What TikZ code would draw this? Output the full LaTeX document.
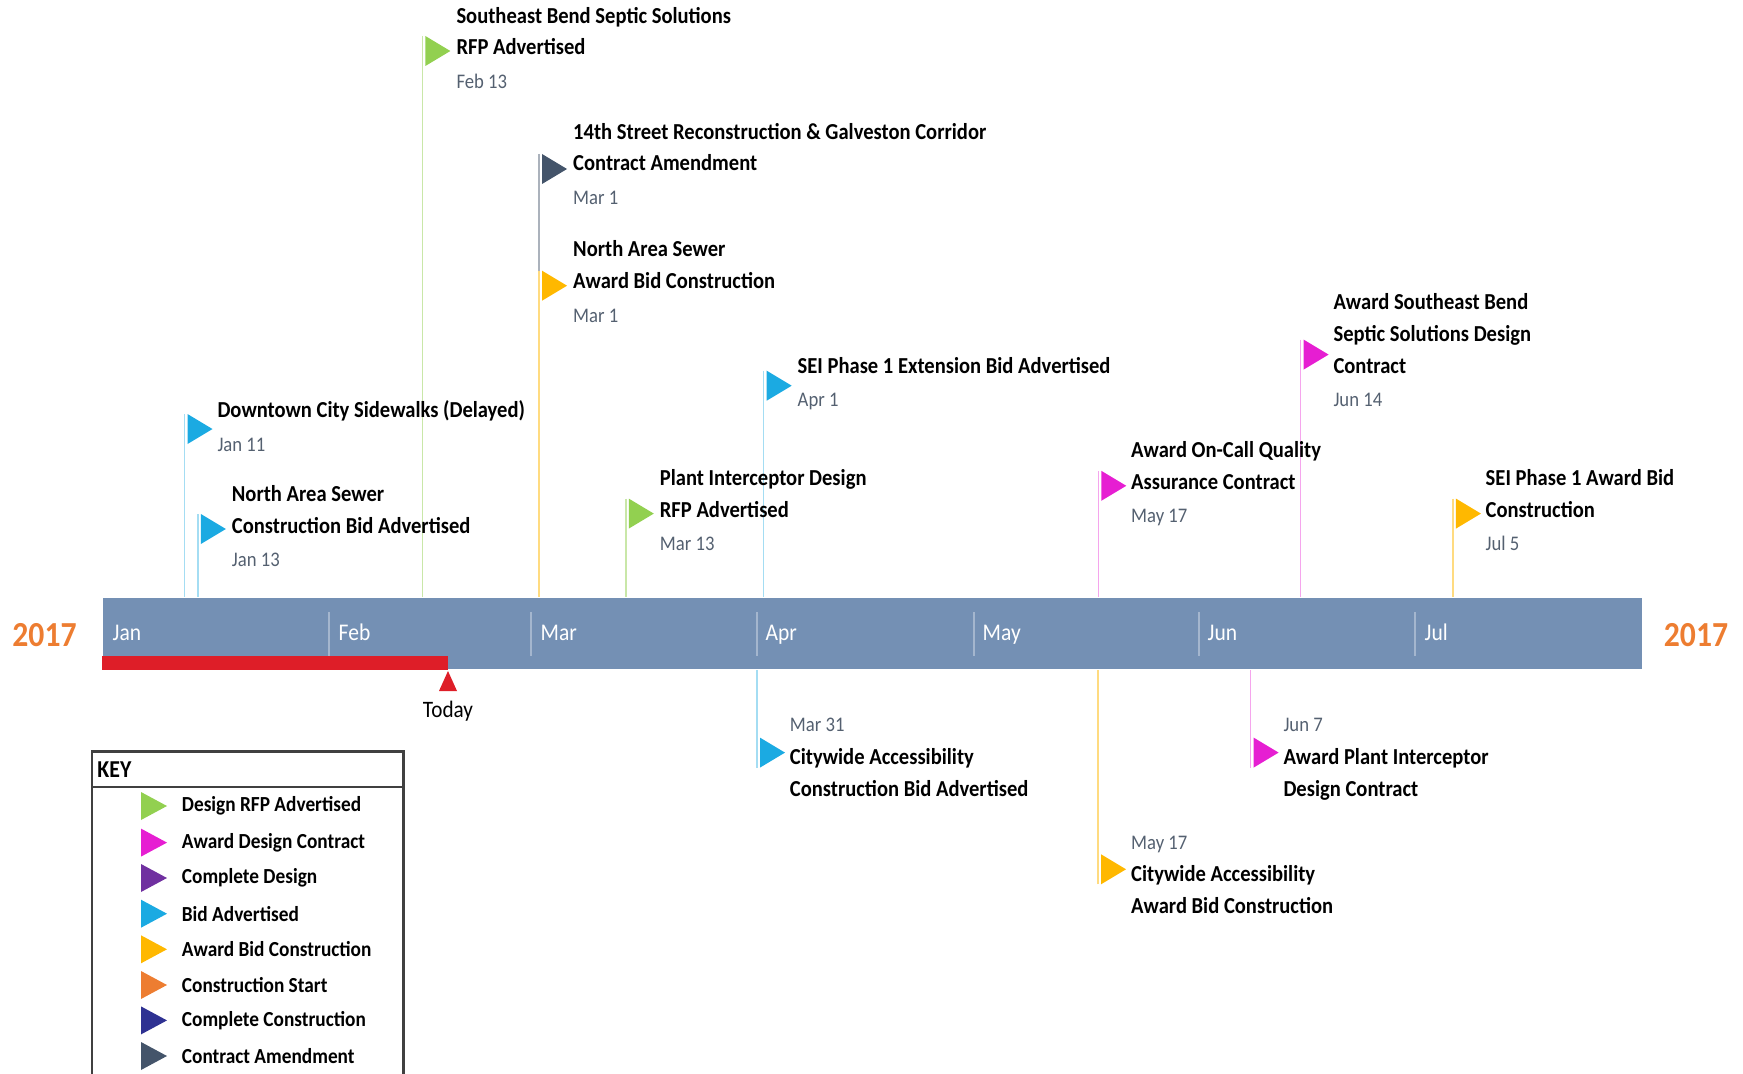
\documentclass[tikz,border=0pt]{standalone}
\usepackage{fontspec}
\setmainfont{Carlito}[FakeStretch=0.9]
\usetikzlibrary{positioning}

\definecolor{barblue}{RGB}{116,144,180}
\definecolor{todayred}{RGB}{222,30,40}
\definecolor{yearorange}{RGB}{237,125,49}
\definecolor{datecol}{RGB}{84,96,112}
\definecolor{rfpgreen}{RGB}{146,208,80}
\definecolor{awdmagenta}{RGB}{230,30,210}
\definecolor{cmpurple}{RGB}{112,48,160}
\definecolor{bidcyan}{RGB}{27,170,226}
\definecolor{bidgold}{RGB}{255,184,0}
\definecolor{conorange}{RGB}{237,125,49}
\definecolor{cmpblue}{RGB}{46,49,146}
\definecolor{amdslate}{RGB}{68,84,106}

\tikzset{
  timebar/.style={fill=barblue, minimum width=15.39cm, minimum height=0.71cm, inner sep=0pt},
  month/.style={anchor=base west, inner sep=0pt, text=white, font=\fontsize{6.8}{8}\selectfont},
  monthsep/.style={white, opacity=0.35, line width=0.4pt},
  year/.style={inner sep=0pt, text=yearorange, font=\bfseries\fontsize{10}{12}\selectfont},
  evtitle/.style={anchor=base west, align=left, inner sep=0pt, font=\bfseries\fontsize{6.5}{9.05}\selectfont},
  evdate/.style={anchor=base west, inner sep=0pt, text=datecol, font=\fontsize{5.9}{9}\selectfont},
  stem/.style={draw=#1, line width=0.4pt},
  keytext/.style={anchor=west, inner sep=0pt, font=\bfseries\fontsize{6.1}{8}\selectfont}
}

\begin{document}
\begin{tikzpicture}[x=0.01cm,y=-0.01cm]
    \useasboundingbox (0,0) rectangle (1743,1073);

    % Timeline bar
    \node[timebar] (bar) at (872.5,633.5) {};
    \fill[todayred] (bar.south west) rectangle (448,656);
    \node[year] (yearL) at (44.5,635) {2017};
    \node[year] (yearR) at (1696,635) {2017};

    % Months
    \node[month] (jan) at (112,640) {Jan};
    \node[month] (feb) at (338,640) {Feb};
    \node[month] (mar) at (540,640) {Mar};
    \node[month] (apr) at (765,640) {Apr};
    \node[month] (may) at (982,640) {May};
    \node[month] (jun) at (1207,640) {Jun};
    \node[month] (jul) at (1424,640) {Jul};
    \draw[monthsep] (329,612) -- (329,656);
    \draw[monthsep] (531,612) -- (531,656);
    \draw[monthsep] (757,612) -- (757,656);
    \draw[monthsep] (974,612) -- (974,656);
    \draw[monthsep] (1199,612) -- (1199,656);
    \draw[monthsep] (1415,612) -- (1415,656);

    % Today
    \coordinate (now) at (448,671);
    \fill[todayred] (now) -- (457,691) -- (439,691) -- cycle;
    \node[inner sep=0pt, font=\fontsize{6.7}{8}\selectfont] (today) at (448,711) {Today};

    % Stems above the bar
    \coordinate (fA) at (184.5,414);
    \coordinate (fB) at (197.9,514);
    \coordinate (fC) at (422.4,36);
    \coordinate (fD) at (539,154);
    \coordinate (fE) at (539,270.7);
    \coordinate (fF) at (625.8,498.6);
    \coordinate (fG) at (763.7,370.7);
    \coordinate (fH) at (1098.3,470.8);
    \coordinate (fI) at (1300.6,339.6);
    \coordinate (fJ) at (1452.9,498.6);
    \draw[stem=bidcyan!40] (fA) -- (fA |- bar.north);
    \draw[stem=bidcyan!40] (fB) -- (fB |- bar.north);
    \draw[stem=rfpgreen!50] (fC) -- (fC |- bar.north);
    \draw[stem=amdslate!45] (fD) -- (fD |- bar.north);
    \draw[stem=bidgold!50] (fE) -- (fE |- bar.north);
    \draw[stem=rfpgreen!50] (fF) -- (fF |- bar.north);
    \draw[stem=bidcyan!40] (fG) -- (fG |- bar.north);
    \draw[stem=awdmagenta!40] (fH) -- (fH |- bar.north);
    \draw[stem=awdmagenta!40] (fI) -- (fI |- bar.north);
    \draw[stem=bidgold!50] (fJ) -- (fJ |- bar.north);

    % Stems below the bar
    \coordinate (fK) at (757,767.6);
    \coordinate (fL) at (1098,884.3);
    \coordinate (fM) at (1250.6,767.6);
    \draw[stem=bidcyan!40] (fK) -- (fK |- bar.south);
    \draw[stem=bidgold!50] (fL) -- (fL |- bar.south);
    \draw[stem=awdmagenta!40] (fM) -- (fM |- bar.south);

    % Flags
    \fill[bidcyan] (fA) ++(3,0) -- ++(25,15) -- ++(-25,15) -- cycle;
    \fill[bidcyan] (fB) ++(3,0) -- ++(25,15) -- ++(-25,15) -- cycle;
    \fill[rfpgreen] (fC) ++(3,0) -- ++(25,15) -- ++(-25,15) -- cycle;
    \fill[amdslate] (fD) ++(3,0) -- ++(25,15) -- ++(-25,15) -- cycle;
    \fill[bidgold] (fE) ++(3,0) -- ++(25,15) -- ++(-25,15) -- cycle;
    \fill[rfpgreen] (fF) ++(3,0) -- ++(25,15) -- ++(-25,15) -- cycle;
    \fill[bidcyan] (fG) ++(3,0) -- ++(25,15) -- ++(-25,15) -- cycle;
    \fill[awdmagenta] (fH) ++(3,0) -- ++(25,15) -- ++(-25,15) -- cycle;
    \fill[awdmagenta] (fI) ++(3,0) -- ++(25,15) -- ++(-25,15) -- cycle;
    \fill[bidgold] (fJ) ++(3,0) -- ++(25,15) -- ++(-25,15) -- cycle;
    \fill[bidcyan] (fK) ++(3,0) -- ++(25,-15) -- ++(-25,-15) -- cycle;
    \fill[bidgold] (fL) ++(3,0) -- ++(25,-15) -- ++(-25,-15) -- cycle;
    \fill[awdmagenta] (fM) ++(3,0) -- ++(25,-15) -- ++(-25,-15) -- cycle;

    % Events above (titles anchored on their last line)
    \node[evtitle] (tA) at (216.8,417) {Downtown City Sidewalks (Delayed)};
    \node[evdate] (dA) at (216.8,451) {Jan 11};
    \node[evtitle] (tB) at (231.2,533) {North Area Sewer\\Construction Bid Advertised};
    \node[evdate] (dB) at (231.2,566) {Jan 13};
    \node[evtitle] (tC) at (455.8,55) {Southeast Bend Septic Solutions\\RFP Advertised};
    \node[evdate] (dC) at (455.8,89) {Feb 13};
    \node[evtitle] (tD) at (572.5,171) {14th Street Reconstruction \& Galveston Corridor\\Contract Amendment};
    \node[evdate] (dD) at (572.5,205) {Mar 1};
    \node[evtitle] (tE) at (572.5,288) {North Area Sewer\\Award Bid Construction};
    \node[evdate] (dE) at (572.5,322) {Mar 1};
    \node[evtitle] (tF) at (659.2,517) {Plant Interceptor Design\\RFP Advertised};
    \node[evdate] (dF) at (659.2,550) {Mar 13};
    \node[evtitle] (tG) at (797,373) {SEI Phase 1 Extension Bid Advertised};
    \node[evdate] (dG) at (797,406) {Apr 1};
    \node[evtitle] (tH) at (1130.5,489) {Award On-Call Quality\\Assurance Contract};
    \node[evdate] (dH) at (1130.5,522) {May 17};
    \node[evtitle] (tI) at (1332.8,373) {Award Southeast Bend\\Septic Solutions Design\\Contract};
    \node[evdate] (dI) at (1332.8,406) {Jun 14};
    \node[evtitle] (tJ) at (1485,517) {SEI Phase 1 Award Bid\\Construction};
    \node[evdate] (dJ) at (1485,550) {Jul 5};

    % Events below
    \node[evdate] (dK) at (789.2,731) {Mar 31};
    \node[evtitle] (tK) at (789.2,796) {Citywide Accessibility\\Construction Bid Advertised};
    \node[evdate] (dL) at (1130.5,849) {May 17};
    \node[evtitle] (tL) at (1130.5,913) {Citywide Accessibility\\Award Bid Construction};
    \node[evdate] (dM) at (1282.8,731) {Jun 7};
    \node[evtitle] (tM) at (1282.8,796) {Award Plant Interceptor\\Design Contract};

    % Key
    \draw[black!75, line width=0.6pt] (92.3,1090) |- (403.5,751.5) -- (403.5,1090);
    \draw[black!75, line width=0.6pt] (92.3,787) -- (403.5,787);
    \node[anchor=base west, inner sep=0pt, font=\bfseries\fontsize{6.9}{8}\selectfont] (key) at (96.7,777) {KEY};
    \fill[rfpgreen] (141,792) -- (167,806) -- (141,820) -- cycle;
    \fill[awdmagenta] (141,828.6) -- (167,842.6) -- (141,856.6) -- cycle;
    \fill[cmpurple] (141,864) -- (167,878) -- (141,892) -- cycle;
    \fill[bidcyan] (141,899.7) -- (167,913.7) -- (141,927.7) -- cycle;
    \fill[bidgold] (141,935.3) -- (167,949.3) -- (141,963.3) -- cycle;
    \fill[conorange] (141,971) -- (167,985) -- (141,999) -- cycle;
    \fill[cmpblue] (141,1006.4) -- (167,1020.4) -- (141,1034.4) -- cycle;
    \fill[amdslate] (141,1042) -- (167,1056) -- (141,1070) -- cycle;
    \node[keytext] (k1) at (181.2,806) {Design RFP Advertised};
    \node[keytext] (k2) at (181.2,842.6) {Award Design Contract};
    \node[keytext] (k3) at (181.2,878) {Complete Design};
    \node[keytext] (k4) at (181.2,913.7) {Bid Advertised};
    \node[keytext] (k5) at (181.2,949.3) {Award Bid Construction};
    \node[keytext] (k6) at (181.2,985) {Construction Start};
    \node[keytext] (k7) at (181.2,1020.4) {Complete Construction};
    \node[keytext] (k8) at (181.2,1056) {Contract Amendment};
\end{tikzpicture}
\end{document}
